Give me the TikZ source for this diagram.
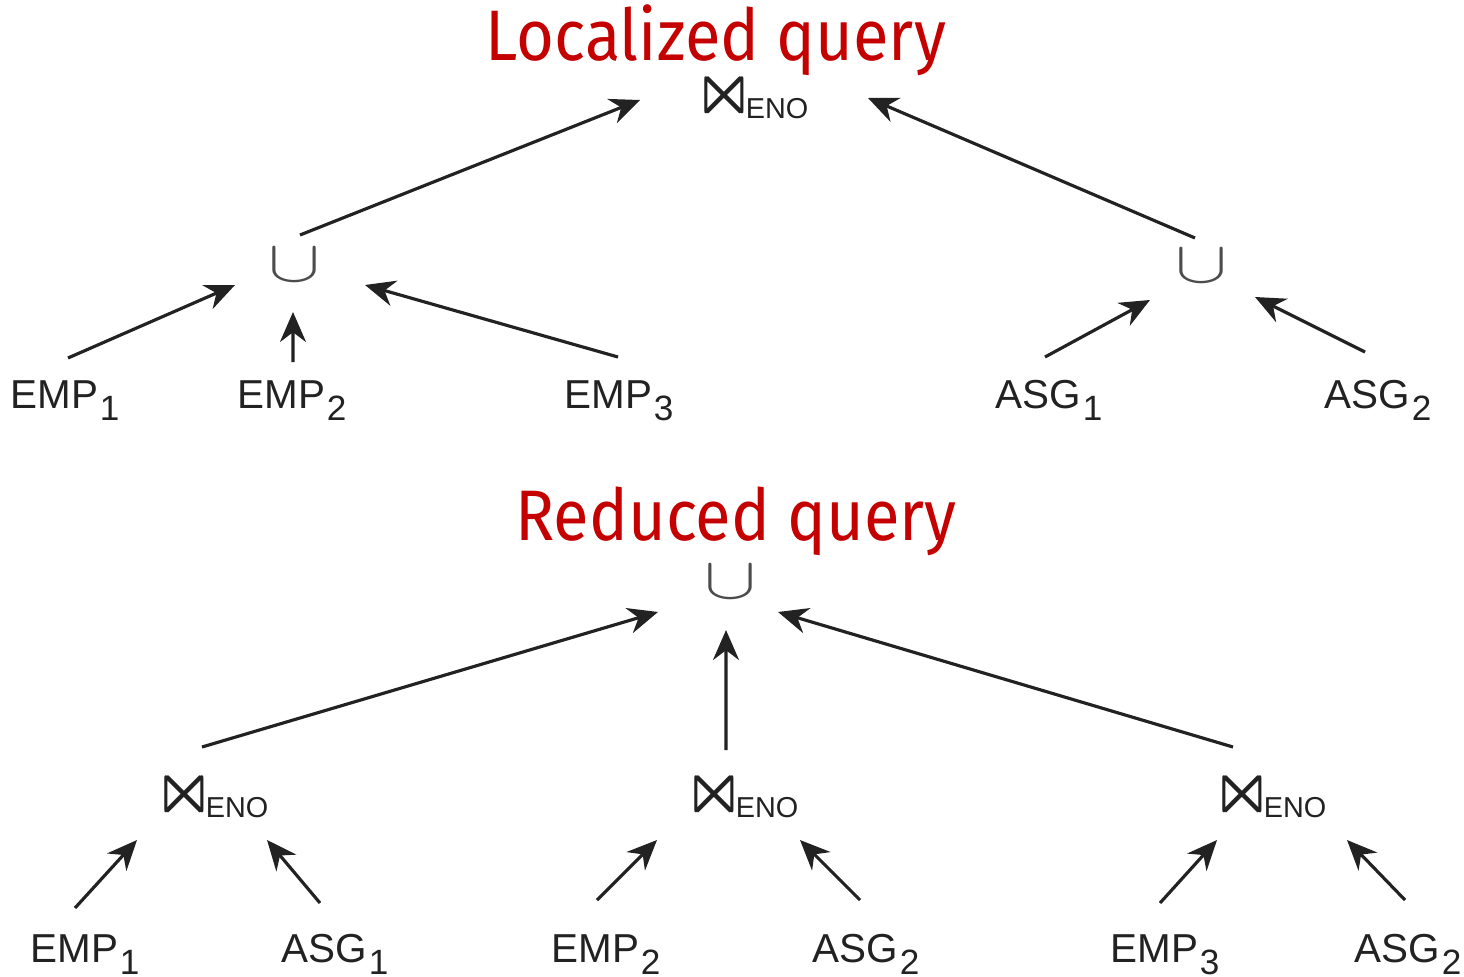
\documentclass[tikz,border=0pt]{standalone}
\usepackage{amssymb}
\usepackage{graphicx}
\usepackage{fontspec}
\setmainfont{Liberation Sans}
\newfontfamily\titlefont{Fira Sans}
\usetikzlibrary{positioning,calc,arrows,arrows.meta}
\definecolor{titlered}{RGB}{196,0,0}
\definecolor{ink}{RGB}{34,34,34}
\newcommand{\leafname}[2]{#1\kern0.5pt\raisebox{-1.2mm}{\fontsize{10}{10}\selectfont #2}}
\newcommand{\joinENO}{\scalebox{1.9}{$\Join$}\kern-2.2pt\raisebox{-0.4mm}{\fontsize{8.2}{8.2}\selectfont ENO}}
\newcommand{\bigcupsym}{\scalebox{1.85}[1.4]{$\cup$}}
\newcommand{\titletext}[1]{\scalebox{1}[1.1]{#1}}
\tikzset{font=\fontsize{11.5}{12}\selectfont}

\begin{document}
\begin{tikzpicture}
	\useasboundingbox (0,0) rectangle (14.64,-9.76);
	\tikzstyle{every node}=[align=center, inner sep=0pt, text=ink]
	\tikzstyle{title}=[anchor=base, text=titlered, font=\titlefont\fontsize{18.5}{19}\selectfont]
	\tikzstyle{leaf}=[anchor=base]
	\tikzstyle{op}=[text=black!70]
	\tikzstyle{arr}=[-{Stealth[length=3mm,width=2.6mm]}, line width=0.9pt, draw=ink]

	% localized query
	\node[title] (loc) at (7.16, -0.61) {\titletext{Localized query}};
	\node (tJoin) at (7.52, -0.95) {\joinENO};
	\node[op] (uL) at (2.95, -2.65) {\bigcupsym};
	\node[op] (uR) at (12.01, -2.66) {\bigcupsym};

	\node[leaf] (emp1) at (0.65, -4.08) {\leafname{EMP}{1}};
	\node[leaf] (emp2) at (2.92, -4.08) {\leafname{EMP}{2}};
	\node[leaf] (emp3) at (6.19, -4.08) {\leafname{EMP}{3}};
	\node[leaf] (asg1) at (10.49, -4.08) {\leafname{ASG}{1}};
	\node[leaf] (asg2) at (13.78, -4.08) {\leafname{ASG}{2}};

	\draw [arr] ([shift={(0.05,0.30)}]uL.center) to ([shift={(-1.12,-0.05)}]tJoin.center);
	\draw [arr] ([shift={(-0.06,0.28)}]uR.center) to ([shift={(1.16,-0.03)}]tJoin.center);
	\draw [arr] ([shift={(0.03,0.50)}]emp1.base) to ([shift={(-0.60,-0.20)}]uL.center);
	\draw [arr] ([shift={(0.01,0.46)}]emp2.base) to ([shift={(-0.02,-0.47)}]uL.center);
	\draw [arr] ([shift={(-0.01,0.51)}]emp3.base) to ([shift={(0.70,-0.20)}]uL.center);
	\draw [arr] ([shift={(-0.04,0.51)}]asg1.base) to ([shift={(-0.51,-0.34)}]uR.center);
	\draw [arr] ([shift={(-0.13,0.56)}]asg2.base) to ([shift={(0.54,-0.31)}]uR.center);

	% reduced query
	\node[title] (red) at (7.36, -5.40) {\titletext{Reduced query}};
	\node[op] (uB) at (7.30, -5.82) {\bigcupsym};
	\node (j1) at (2.12, -7.94) {\joinENO};
	\node (j2) at (7.42, -7.94) {\joinENO};
	\node (j3) at (12.70, -7.94) {\joinENO};

	\node[leaf] (bEmp1) at (0.85, -9.62) {\leafname{EMP}{1}};
	\node[leaf] (bAsg1) at (3.35, -9.62) {\leafname{ASG}{1}};
	\node[leaf] (bEmp2) at (6.06, -9.62) {\leafname{EMP}{2}};
	\node[leaf] (bAsg2) at (8.66, -9.62) {\leafname{ASG}{2}};
	\node[leaf] (bEmp3) at (11.65, -9.62) {\leafname{EMP}{3}};
	\node[leaf] (bAsg3) at (14.08, -9.62) {\leafname{ASG}{2}};

	\draw [arr] ([shift={(-0.10,0.47)}]j1.center) to ([shift={(-0.72,-0.30)}]uB.center);
	\draw [arr] ([shift={(-0.16,0.44)}]j2.center) to ([shift={(-0.04,-0.48)}]uB.center);
	\draw [arr] ([shift={(-0.37,0.47)}]j3.center) to ([shift={(0.48,-0.30)}]uB.center);
	\draw [arr] ([shift={(-0.10,0.54)}]bEmp1.base) to ([shift={(-0.75,-0.46)}]j1.center);
	\draw [arr] ([shift={(-0.15,0.59)}]bAsg1.base) to ([shift={(0.55,-0.46)}]j1.center);
	\draw [arr] ([shift={(-0.09,0.62)}]bEmp2.base) to ([shift={(-0.85,-0.46)}]j2.center);
	\draw [arr] ([shift={(-0.06,0.62)}]bAsg2.base) to ([shift={(0.58,-0.46)}]j2.center);
	\draw [arr] ([shift={(-0.05,0.59)}]bEmp3.base) to ([shift={(-0.53,-0.46)}]j3.center);
	\draw [arr] ([shift={(-0.03,0.62)}]bAsg3.base) to ([shift={(0.77,-0.46)}]j3.center);
\end{tikzpicture}
\end{document}
